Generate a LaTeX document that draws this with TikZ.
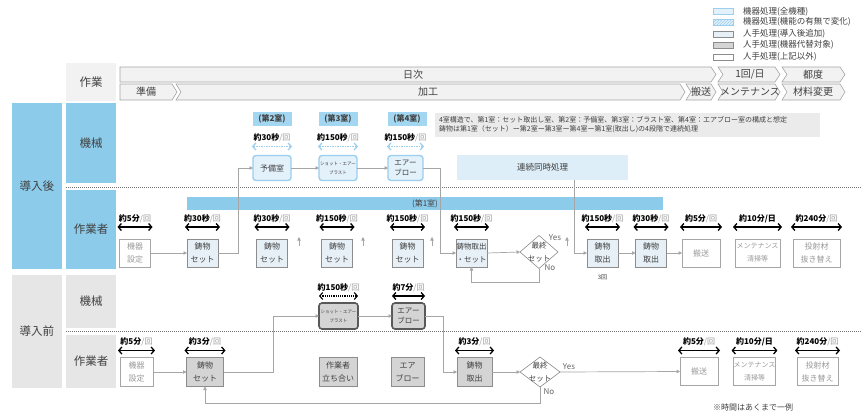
\documentclass[tikz,border=0pt]{standalone}
\usepackage{fontspec}
\setmainfont{Noto Sans CJK JP}
\usetikzlibrary{arrows.meta,shapes.geometric,patterns,calc}
\definecolor{hblue}{HTML}{8DCBEA}
\definecolor{rblue}{HTML}{A3D6F0}
\definecolor{mfill}{HTML}{E3F1FB}
\definecolor{mdraw}{HTML}{9ACFEE}
\definecolor{wfill}{HTML}{E6F0F6}
\definecolor{gfill}{HTML}{D4D4D4}
\definecolor{bdr}{HTML}{8C8C8C}
\definecolor{cgray}{HTML}{A6A6A6}
\definecolor{txt}{HTML}{404040}
\definecolor{ltxt}{HTML}{9A9A9A}
\definecolor{hgray}{HTML}{E6E6E6}
\definecolor{chfill}{HTML}{F2F2F2}
\definecolor{cnt}{HTML}{DDEEF8}
\definecolor{notefill}{HTML}{EBEBEB}
\newcommand{\myfs}[1]{\fontsize{#1}{#1}\selectfont}
\newcommand{\tlab}[2]{\textbf{#1}\textcolor{ltxt}{/#2}}
\newcommand{\tmark}[5]{%
  \draw[dbl] ([xshift=-2pt,yshift=#4pt]#1.north west) -- ([xshift=2pt,yshift=#4pt]#1.north east);
  \node[tl, anchor=south] (#3) at ([yshift=#5pt]#1.north) {#2};}
\newcommand{\chv}[5]{%
  \draw[chev] (#1,#3) -- ({#2-5},#3) -- (#2,{(#3+#4)/2}) -- ({#2-5},#4) -- (#1,#4) -- ({#1+#5},{(#3+#4)/2}) -- cycle;}
\tikzset{
 every node/.style={inner sep=0pt,outer sep=0pt},
 side/.style={fill=hblue, text=txt, font=\myfs{11.5}},
 sideg/.style={fill=hgray, text=txt, font=\myfs{11.5}},
 chev/.style={fill=chfill, draw=cgray, line width=0.6pt},
 htxt/.style={font=\myfs{10}, text=txt},
 lgt/.style={font=\myfs{8.5}, text=txt, anchor=west},
 lgb/.style={minimum width=20pt, minimum height=6pt, line width=0.7pt},
 mbox/.style={draw=mdraw, line width=1.4pt, fill=mfill, rounded corners=3pt, text=txt, align=center},
 pbox/.style={draw=black!65, line width=1.6pt, fill=gfill, rounded corners=3pt, text=txt, align=center},
 wbox/.style={draw=bdr, line width=0.6pt, fill=wfill, text=txt, align=center, font=\fontsize{8}{13}\selectfont},
 gbox/.style={wbox, fill=gfill},
 ebox/.style={wbox, fill=white, draw=cgray, text=ltxt},
 dia/.style={diamond, draw=bdr, fill=white, line width=0.6pt},
 dtxt/.style={font=\fontsize{7.5}{13}\selectfont, text=txt, align=center},
 room/.style={fill=rblue, text=txt, minimum width=39pt, minimum height=14pt, font=\bfseries\myfs{8}},
 tl/.style={font=\myfs{8}, text=black},
 yn/.style={font=\myfs{8}, text=black!60},
 conn/.style={draw=cgray, line width=0.7pt, -{Triangle[length=3.5pt,width=3.5pt]}},
 sep/.style={draw=black!55, line width=0.8pt, dash pattern=on 1pt off 1pt},
 dbl/.style={draw=black, line width=1.3pt, {Straight Barb[length=3pt,width=7pt]}-{Straight Barb[length=3pt,width=7pt]}},
 ldbl/.style={draw=mdraw, line width=1.3pt, dash pattern=on 1.5pt off 1pt, {Straight Barb[length=3pt,width=7pt]}-{Straight Barb[length=3pt,width=7pt]}},
 ddbl/.style={draw=black, line width=1.1pt, dash pattern=on 1.2pt off 1pt, {Straight Barb[length=3pt,width=7pt]}-{Straight Barb[length=3pt,width=7pt]}},
}
\begin{document}
\begin{tikzpicture}[x=1pt,y=-1pt]
\useasboundingbox (0,0) rectangle (864,415);
\fill[white] (0,0) rectangle (864,415);

% legend
\node[lgb, draw=mdraw, fill=mfill] (lg1) at (723,11.5) {};
\node[lgb, draw=mdraw, preaction={fill=mfill}, pattern=north east lines, pattern color=mdraw] (lg2) at (723,22) {};
\node[lgb, draw=bdr, fill=wfill] (lg3) at (723,34) {};
\node[lgb, draw=bdr, fill=gfill] (lg4) at (723,45) {};
\node[lgb, draw=bdr, fill=white] (lg5) at (723,57) {};
\node[lgt] (lg1t) at (743,11.5) {機器処理(全機種)};
\node[lgt] (lg2t) at (743,22) {機器処理(機能の有無で変化)};
\node[lgt] (lg3t) at (743,34) {人手処理(導入後追加)};
\node[lgt] (lg4t) at (743,45) {人手処理(機器代替対象)};
\node[lgt] (lg5t) at (743,57) {人手処理(上記以外)};

% header
\node[fill=chfill, minimum width=50pt, minimum height=38pt, font=\myfs{11.5}, text=txt] (hw) at (91,82) {作業};
\chv{120}{716}{67}{82}{0}
\chv{718}{780}{67}{82}{5}
\chv{782}{845}{67}{82}{5}
\chv{120}{177}{84}{100}{0}
\chv{176}{685}{84}{100}{5}
\chv{686}{716}{84}{100}{5}
\chv{718}{780}{84}{100}{5}
\chv{782}{845}{84}{100}{5}
\node[htxt] (h1) at (413,74.5) {日次};
\node[htxt] (h2) at (750,74.5) {1回/日};
\node[htxt] (h3) at (813,74.5) {都度};
\node[htxt] (h4) at (146,92) {準備};
\node[htxt] (h5) at (428,92) {加工};
\node[htxt] (h6) at (701,92) {搬送};
\node[htxt] (h7) at (750,92) {メンテナンス};
\node[htxt] (h8) at (813,92) {材料変更};

% side labels
\node[side, minimum width=50pt, minimum height=166pt] (aft) at (37,186) {導入後};
\node[side, minimum width=50pt, minimum height=80pt] (am) at (91,143) {機械};
\node[side, minimum width=50pt, minimum height=79pt] (aw) at (91,229.5) {作業者};
\node[sideg, minimum width=50pt, minimum height=113pt] (bef) at (37,331.5) {導入前};
\node[sideg, minimum width=50pt, minimum height=53pt] (bm) at (91,301.5) {機械};
\node[sideg, minimum width=50pt, minimum height=53pt] (bw) at (91,361.5) {作業者};
\draw[sep] (66,187) -- (862,187);
\draw[sep] (66,331) -- (862,331);

% ===== after: machine row
\node[room] (r2) at (272,119) {(第2室)};
\node[room] (r3) at (338,119) {(第3室)};
\node[room] (r4) at (407,119) {(第4室)};
\node[mbox, minimum width=38pt, minimum height=25pt, font=\myfs{8}] (m2) at (272,168) {予備室};
\node[mbox, minimum width=38pt, minimum height=25pt, font=\fontsize{4.5}{9}\selectfont] (m3) at (338,168) {ショット・エアー\\ブラスト};
\node[mbox, minimum width=35pt, minimum height=25pt, font=\fontsize{7.5}{10}\selectfont] (m4) at (405.5,168) {エアー\\ブロー};
\draw[ldbl] ([xshift=-1pt,yshift=9pt]m2.north west) -- ([xshift=1pt,yshift=9pt]m2.north east);
\draw[ldbl] ([xshift=-1pt,yshift=9pt]m3.north west) -- ([xshift=1pt,yshift=9pt]m3.north east);
\draw[ldbl] ([xshift=-1pt,yshift=9pt]m4.north west) -- ([xshift=1pt,yshift=9pt]m4.north east);
\node[tl, anchor=south] (m2t) at ([yshift=14pt]m2.north) {\tlab{約30秒}{回}};
\node[tl, anchor=south] (m3t) at ([yshift=14pt]m3.north) {\tlab{約150秒}{回}};
\node[tl, anchor=south] (m4t) at ([yshift=14pt]m4.north) {\tlab{約150秒}{回}};
\node[fill=notefill, minimum width=385pt, minimum height=24pt, text width=377pt, align=left, font=\fontsize{7}{9}\selectfont, text=txt] (note) at (627.5,125) {4室構造で、第1室：セット取出し室、第2室：予備室、第3室：ブラスト室、第4室：エアブロー室の構成と想定\\鋳物は第1室（セット）ー第2室ー第3室ー第4室ー第1室(取出し)の4段階で連続処理};
\node[fill=cnt, minimum width=171pt, minimum height=25pt, font=\myfs{8.5}, text=txt] (cs) at (542.5,167.5) {連続同時処理};
\node[fill=hblue, minimum width=476pt, minimum height=13pt, font=\myfs{8}, text=txt] (r1) at (425,203.5) {(第1室)};

% ===== after: worker row
\node[ebox, minimum width=31pt, minimum height=28pt] (b1) at (135,253) {機器\\設定};
\node[wbox, minimum width=31pt, minimum height=28pt] (b2) at (202.5,253) {鋳物\\セット};
\node[wbox, minimum width=31pt, minimum height=28pt] (b3) at (272,253) {鋳物\\セット};
\node[wbox, minimum width=31pt, minimum height=28pt] (b4) at (337,253) {鋳物\\セット};
\node[wbox, minimum width=31pt, minimum height=28pt] (b5) at (407.5,253) {鋳物\\セット};
\node[wbox, minimum width=31pt, minimum height=28pt, font=\fontsize{7.5}{13}\selectfont] (b6) at (471.5,253) {鋳物取出\\・セット};
\node[dia, minimum width=38pt, minimum height=33pt] (d1) at (539,252) {};
\node[dtxt] (d1t) at (d1) {最終\\セット};
\node[wbox, minimum width=31pt, minimum height=28pt] (b8) at (602.5,253) {鋳物\\取出};
\node[wbox, minimum width=31pt, minimum height=28pt] (b9) at (651,253) {鋳物\\取出};
\node[ebox, minimum width=38pt, minimum height=28pt] (b10) at (701,253) {搬送};
\node[ebox, minimum width=45pt, minimum height=28pt, font=\fontsize{7}{13}\selectfont] (b11) at (757.5,253) {メンテナンス\\清掃等};
\node[ebox, minimum width=47pt, minimum height=28pt] (b12) at (816.5,253) {投射材\\抜き替え};
\tmark{b1}{\tlab{約5分}{回}}{b1t}{12}{16}
\tmark{b2}{\tlab{約30秒}{回}}{b2t}{12}{16}
\tmark{b3}{\tlab{約30秒}{回}}{b3t}{12}{16}
\tmark{b4}{\tlab{約150秒}{回}}{b4t}{12}{16}
\tmark{b5}{\tlab{約150秒}{回}}{b5t}{12}{16}
\tmark{b6}{\tlab{約150秒}{回}}{b6t}{12}{16}
\tmark{b8}{\tlab{約150秒}{回}}{b8t}{12}{16}
\tmark{b9}{\tlab{約30秒}{回}}{b9t}{12}{16}
\tmark{b10}{\tlab{約5分}{回}}{b10t}{12}{16}
\tmark{b11}{\textbf{約10分/日}}{b11t}{12}{16}
\tmark{b12}{\tlab{約240分}{回}}{b12t}{12}{16}
\node[font=\myfs{6}, text=txt] (b8n) at (602.5,277) {3回};
\node[yn] (y1) at (555,238) {Yes};
\node[yn] (n1) at (550,268) {No};

\coordinate (k1) at (238,253);
\coordinate (k2) at (440,168);
\coordinate (k3) at (574,253);
\coordinate (k4) at (539,282);
\draw[conn] (b1.east) -- (b2.west);
\draw[conn] (b2.east) -- (k1) |- (m2.west);
\draw[conn] (m2.east) -- (m3.west);
\draw[conn] (m3.east) -- (m4.west);
\draw[conn] (m4.east) -- (k2) |- (b6.west);
\draw[conn] (b6.east) -- (d1.west);
\draw[conn] (d1.south) -- (k4) -| (b6.south);
\draw[conn] (cs.south -| k3) |- (b8.west);
\draw[conn] (b8.east) -- (b9.west);
\draw[conn] (b9.east) -- (b10.west);
\coordinate (u1a) at (299,246); \coordinate (u1b) at (299,237);
\coordinate (u2a) at (363,246); \coordinate (u2b) at (363,237);
\coordinate (u3a) at (432,246); \coordinate (u3b) at (432,237);
\coordinate (u4a) at (567,246); \coordinate (u4b) at (567,237);
\draw[conn] (u1a) -- (u1b);
\draw[conn] (u2a) -- (u2b);
\draw[conn] (u3a) -- (u3b);
\draw[conn] (u4a) -- (u4b);

% ===== before: machine row
\node[pbox, minimum width=39pt, minimum height=26pt, font=\fontsize{4.5}{9}\selectfont] (pm3) at (338.5,316) {ショット・エアー\\ブラスト};
\node[pbox, minimum width=33pt, minimum height=26pt, font=\fontsize{7.5}{10}\selectfont] (pm4) at (408.5,316) {エアー\\ブロー};
\draw[ddbl] ([yshift=7pt]pm3.north west) -- ([yshift=7pt]pm3.north east);
\draw[dbl] ([yshift=7pt]pm4.north west) -- ([yshift=7pt]pm4.north east);
\node[tl, anchor=south] (pm3t) at ([yshift=11pt]pm3.north) {\tlab{約150秒}{回}};
\node[tl, anchor=south] (pm4t) at ([yshift=11pt]pm4.north) {\tlab{約7分}{回}};

% ===== before: worker row
\node[ebox, minimum width=33pt, minimum height=29pt] (q1) at (136.5,372) {機器\\設定};
\node[gbox, minimum width=37pt, minimum height=29pt] (q2) at (205,372) {鋳物\\セット};
\node[gbox, minimum width=38pt, minimum height=29pt] (q3) at (338,372) {作業者\\立ち合い};
\node[gbox, minimum width=33pt, minimum height=29pt] (q4) at (407.5,372) {エア\\ブロー};
\node[gbox, minimum width=35pt, minimum height=29pt] (q5) at (474.5,372) {鋳物\\取出};
\node[dia, minimum width=40pt, minimum height=30pt] (qd) at (540,372) {};
\node[dtxt] (qdt) at (qd) {最終\\セット};
\node[ebox, minimum width=38pt, minimum height=28pt] (q6) at (699,371.5) {搬送};
\node[ebox, minimum width=40pt, minimum height=28pt, font=\fontsize{7}{13}\selectfont] (q7) at (754.5,371.5) {メンテナンス\\清掃等};
\node[ebox, minimum width=41pt, minimum height=28pt] (q8) at (817.5,371.5) {投射材\\抜き替え};
\tmark{q1}{\tlab{約5分}{回}}{q1t}{7}{12}
\tmark{q2}{\tlab{約3分}{回}}{q2t}{7}{12}
\tmark{q5}{\tlab{約3分}{回}}{q5t}{7}{12}
\tmark{q6}{\tlab{約5分}{回}}{q6t}{7}{12}
\tmark{q7}{\textbf{約10分/日}}{q7t}{7}{12}
\tmark{q8}{\tlab{約240分}{回}}{q8t}{7}{12}
\node[yn] (y2) at (569,367) {Yes};
\node[yn] (n2) at (549,392) {No};
\node[font=\myfs{8}, text=txt] (foot) at (753,407) {※時間はあくまで一例};

\coordinate (k5) at (273,372);
\coordinate (k6) at (443,316);
\coordinate (k7) at (540,403);
\draw[conn] (q1.east) -- (q2.west);
\draw[conn] (q2.east) -- (k5) |- (pm3.west);
\draw[conn] (pm3.east) -- (pm4.west);
\draw[conn] (pm4.east) -- (k6) |- (q5.west);
\draw[conn] (q5.east) -- (qd.west);
\draw[conn] (qd.east) -- (q6.west);
\draw[conn] (qd.south) -- (k7) -| (q2.south);
\end{tikzpicture}
\end{document}
